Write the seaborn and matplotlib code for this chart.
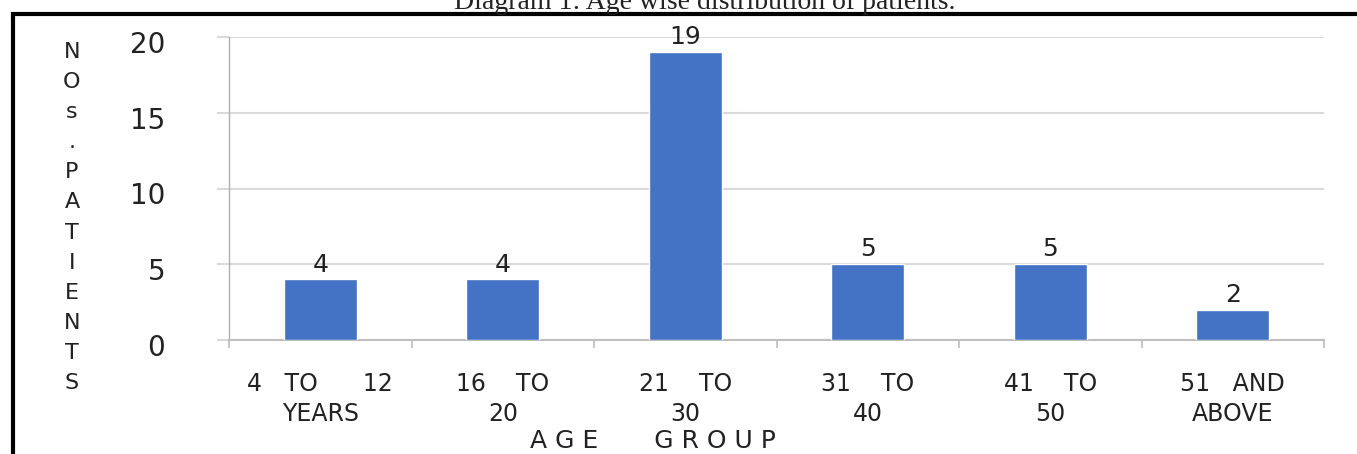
import matplotlib
matplotlib.use("Agg")
import matplotlib.pyplot as plt
import matplotlib.transforms as mtransforms
import seaborn as sns
import pandas as pd
from matplotlib.patches import Rectangle

categories = ["4   TO      12\nYEARS", "16    TO\n20", "21    TO\n30", "31    TO\n40", "41    TO\n50", "51   AND\nABOVE"]
patients = [4, 4, 19, 5, 5, 2]
yticks = [0, 5, 10, 15, 20]
ylabel_letters = ["N", "O", "s", ".", "P", "A", "T", "I", "E", "N", "T", "S"]
title = "Diagram 1: Age wise distribution of patients."
xlabel = "A G E       G R O U P"

sns.set_theme(style="white")
plt.rcParams['font.family'] = ['DejaVu Sans']

df = pd.DataFrame({"group": categories, "n": patients})

W, H = 1357, 454
fig = plt.figure(figsize=(W / 100, H / 100), dpi=100)
ax = fig.add_axes([229 / W, 1 - 340 / H, (1324 - 229) / W, (340 - 37) / H])

sns.barplot(data=df, x="group", y="n", color="#4472C4", width=0.4, ax=ax,
            saturation=1, zorder=3)
ax.set_xlim(-0.5, len(categories) - 0.5)
ax.set_ylim(0, 20)
ax.set_yticks(yticks)
ax.yaxis.grid(True, color="#d9d9d9", linewidth=1.5, zorder=0)

for c in ax.containers:
    ax.bar_label(c, labels=[str(v) for v in patients], padding=2, fontsize=18, color="#222222")

for s in ["top", "right"]:
    ax.spines[s].set_visible(False)
ax.spines["left"].set_color("#b0b0b0")
ax.spines["left"].set_linewidth(1.0)
ax.spines["bottom"].set_color("#bfbfbf")
ax.spines["bottom"].set_linewidth(1.5)

ax.set_xticks([i - 0.5 for i in range(len(categories) + 1)], minor=True)
ax.tick_params(axis="x", which="minor", length=6, width=1.2, color="#bfbfbf", direction="out", bottom=True)
ax.tick_params(axis="x", which="major", length=0, pad=23, labelsize=17, labelcolor="#222222")
ax.tick_params(axis="y", length=9, width=1.5, color="#d9d9d9", pad=37, labelsize=20, labelcolor="#222222", left=True)
ax.set_xlabel("")
ax.set_ylabel("")
for lab in ax.get_xticklabels():
    lab.set_linespacing(1.3)
off = mtransforms.ScaledTranslation(0, -5 / 100, fig.dpi_scale_trans)
for lab in ax.get_yticklabels():
    lab.set_transform(lab.get_transform() + off)

# stacked y label
y0, y1 = 52, 383
for i, ch in enumerate(ylabel_letters):
    yy = y0 + (y1 - y0) * i / (len(ylabel_letters) - 1)
    fig.text(72 / W, 1 - yy / H, ch, ha="center", va="center", fontsize=16, color="#222222")

fig.text(530 / W, 1 - 448 / H, xlabel, ha="left", va="baseline", fontsize=18, color="#222222")

# frame
fig.add_artist(Rectangle((12.5 / W, -0.05), 1.1, 1 - 14.5 / H + 0.05, transform=fig.transFigure,
                         fill=False, edgecolor="black", linewidth=3.0))
fig.text(705 / W, 1 - 9 / H, title, ha="center", va="baseline", fontsize=20,
         family="Liberation Serif", color="#222222")

fig.savefig("out.png", dpi=100, facecolor="white")
